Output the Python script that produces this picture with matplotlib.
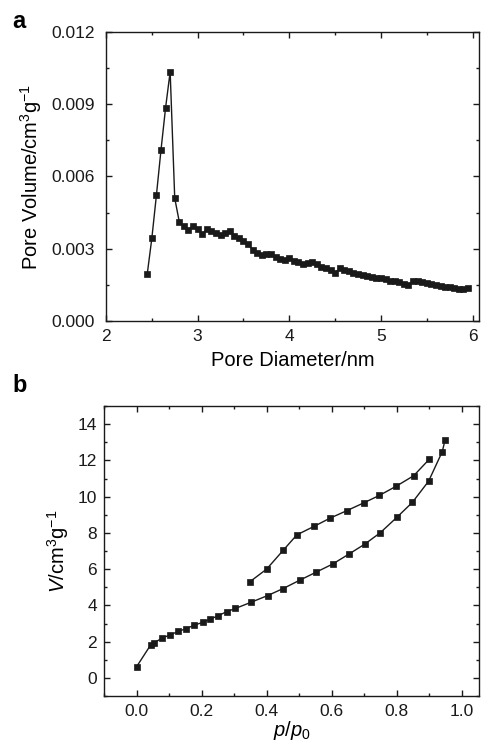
import matplotlib
matplotlib.use("Agg")
import matplotlib.pyplot as plt
from matplotlib.ticker import MultipleLocator

plt.rcParams['font.family'] = ['Liberation Sans', 'DejaVu Sans']
plt.rcParams['mathtext.fontset'] = 'custom'
plt.rcParams['mathtext.rm'] = 'Liberation Sans'
plt.rcParams['mathtext.it'] = 'Liberation Sans:italic'
plt.rcParams['mathtext.bf'] = 'Liberation Sans:bold'

# ---- Panel a: pore size distribution ----
pore_diameter = [2.45, 2.50, 2.55, 2.60, 2.65, 2.70, 2.75, 2.80,
                 2.85, 2.90, 2.95, 3.00, 3.05, 3.10, 3.15, 3.20, 3.25, 3.30,
                 3.35, 3.40, 3.45, 3.50, 3.55, 3.60, 3.65, 3.70, 3.75, 3.80,
                 3.85, 3.90, 3.95, 4.00, 4.05, 4.10, 4.15, 4.20, 4.25, 4.30,
                 4.35, 4.40, 4.45, 4.50, 4.55, 4.60, 4.65, 4.70, 4.75, 4.80,
                 4.85, 4.90, 4.95, 5.00, 5.05, 5.10, 5.15, 5.20, 5.25, 5.30,
                 5.35, 5.40, 5.45, 5.50, 5.55, 5.60, 5.65, 5.70, 5.75, 5.80,
                 5.85, 5.90, 5.95]
pore_volume = [0.00195, 0.00343, 0.00522, 0.00710, 0.00885, 0.01035, 0.00510, 0.00411,
               0.00393, 0.00378, 0.00396, 0.00382, 0.00361, 0.00382, 0.00375, 0.00366, 0.00357, 0.00364,
               0.00372, 0.00351, 0.00343, 0.00332, 0.00318, 0.00295, 0.00282, 0.00276, 0.00278, 0.00279,
               0.00267, 0.00258, 0.00254, 0.00261, 0.00251, 0.00245, 0.00238, 0.00242, 0.00247, 0.00235,
               0.00225, 0.00218, 0.00210, 0.00201, 0.00218, 0.00213, 0.00206, 0.00200, 0.00194, 0.00191,
               0.00186, 0.00183, 0.00180, 0.00178, 0.00173, 0.00168, 0.00165, 0.00160, 0.00155, 0.00149,
               0.00168, 0.00166, 0.00162, 0.00156, 0.00152, 0.00149, 0.00146, 0.00143, 0.00140, 0.00136,
               0.00132, 0.00131, 0.00135]

# ---- Panel b: isotherm ----
ads_p = [0.0, 0.044, 0.054, 0.078, 0.103, 0.128, 0.153, 0.178, 0.203, 0.227,
         0.251, 0.277, 0.304, 0.352, 0.403, 0.451, 0.502, 0.552, 0.603, 0.653,
         0.701, 0.749, 0.800, 0.848, 0.898, 0.940, 0.949]
ads_v = [0.61, 1.83, 1.93, 2.19, 2.37, 2.56, 2.72, 2.91, 3.06, 3.24,
         3.43, 3.65, 3.83, 4.17, 4.54, 4.93, 5.39, 5.83, 6.28, 6.83,
         7.37, 8.00, 8.85, 9.68, 10.85, 12.48, 13.15]
des_p = [0.900, 0.852, 0.798, 0.747, 0.698, 0.646, 0.596, 0.547, 0.493, 0.451, 0.400, 0.349]
des_v = [12.06, 11.15, 10.57, 10.07, 9.65, 9.22, 8.82, 8.37, 7.89, 7.04, 6.00, 5.31]

col = '#1a1a1a'
fig = plt.figure(figsize=(4.92, 7.45), dpi=100)
axa = fig.add_axes([106/492, 1-321/745, (479-106)/492, (321-32)/745])
axb = fig.add_axes([104/492, 1-696/745, (479-104)/492, (696-406)/745])

mk = dict(color=col, marker='s', markersize=4.6, linewidth=1.0, markeredgewidth=0.5)
axa.plot(pore_diameter, pore_volume, **mk)
axb.plot(ads_p, ads_v, **mk)
axb.plot(des_p, des_v, **mk)

axa.set_xlim(2, 6.07)
axa.set_ylim(0, 0.012)
axa.xaxis.set_major_locator(MultipleLocator(1))
axa.xaxis.set_minor_locator(MultipleLocator(0.5))
axa.yaxis.set_major_locator(MultipleLocator(0.003))
axa.yaxis.set_minor_locator(MultipleLocator(0.0015))
axa.yaxis.set_major_formatter(matplotlib.ticker.FormatStrFormatter('%.3f'))
axa.set_xlabel('Pore Diameter/nm', fontsize=14.5, labelpad=5)
axa.set_ylabel('Pore Volume/cm$^3$g$^{-1}$', fontsize=14.5, labelpad=5)

axb.set_xlim(-0.1, 1.053)
axb.set_ylim(-1, 15)
axb.xaxis.set_major_locator(MultipleLocator(0.2))
axb.xaxis.set_minor_locator(MultipleLocator(0.1))
axb.yaxis.set_major_locator(MultipleLocator(2))
axb.yaxis.set_minor_locator(MultipleLocator(1))
axb.xaxis.set_major_formatter(matplotlib.ticker.FormatStrFormatter('%.1f'))
axb.set_xlabel(r'$\mathit{p}/\mathit{p}_{\mathrm{0}}$', fontsize=14.5, labelpad=0)
axb.set_ylabel(r'$\mathit{V}$/cm$^3$g$^{-1}$', fontsize=14.5, labelpad=5)

for ax in (axa, axb):
    for s in ax.spines.values():
        s.set_linewidth(1.0)
        s.set_color(col)
    ax.tick_params(which='both', direction='in', top=True, right=True,
                   labelsize=12.5, colors=col, width=1.0)
    ax.tick_params(which='major', length=4.5)
    ax.tick_params(which='minor', length=2.5)

axa.tick_params(axis='y', which='major', pad=8)
axa.tick_params(axis='x', which='major', pad=5.5)
axb.tick_params(axis='y', which='major', pad=5)
axb.tick_params(axis='x', which='major', pad=6)

fig.text(12/492, 1-21/745, 'a', fontsize=17, fontweight='bold', ha='left', va='center')
fig.text(12/492, 1-386/745, 'b', fontsize=17, fontweight='bold', ha='left', va='center')

fig.savefig('out.png', dpi=100)
